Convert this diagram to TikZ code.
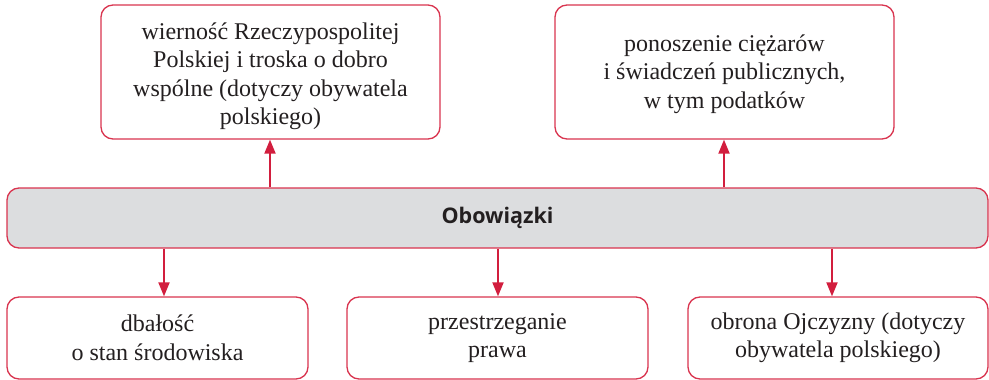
\documentclass[tikz,border=0pt]{standalone}
\usepackage{fontspec}
\setmainfont{Liberation Serif}
\newfontfamily\headfont{Open Sans}
\usetikzlibrary{arrows.meta}
\definecolor{frame}{HTML}{D9344F}
\definecolor{arrowred}{HTML}{D21E3E}
\definecolor{barfill}{HTML}{DCDDDF}
\definecolor{txt}{HTML}{231F20}
\tikzset{
  box/.style={draw=frame, line width=1.3pt, rounded corners=12pt, fill=white, inner sep=0pt},
  label text/.style={align=center, text=txt, font=\fontsize{24}{28.5}\selectfont, inner sep=0pt},
  arr/.style={draw=arrowred, line width=1.9pt, -{Triangle[width=11pt,length=14pt]}}
}
\begin{document}
\begin{tikzpicture}[x=1pt,y=-1pt]
\useasboundingbox (0,0) rectangle (989,380);
\node[box, minimum width=339pt, minimum height=134pt] (t1) at (270.5,72) {};
\node[label text] (t1t) at ([yshift=-4pt]t1.center)
  {wierność Rzeczypospolitej\\Polskiej i troska o dobro\\wspólne (dotyczy obywatela\\polskiego)};
\node[box, minimum width=339pt, minimum height=134pt] (t2) at (724.5,72) {};
\node[label text] (t2t) at ([yshift=-2pt]t2.center)
  {ponoszenie ciężarów\\i świadczeń publicznych,\\w tym podatków};
\node[box, fill=barfill, minimum width=981pt, minimum height=60pt, text=txt,
  font=\headfont\bfseries\fontsize{21.5}{24}\selectfont] (bar) at (497.5,218) {Obowiązki};
\node[box, minimum width=301pt, minimum height=82pt] (b1) at (157.5,338) {};
\node[label text] (b1t) at (b1.center) {dbałość\\o stan środowiska};
\node[box, minimum width=301pt, minimum height=82pt] (b2) at (497.5,338) {};
\node[label text] (b2t) at (b2.center) {przestrzeganie\\prawa};
\node[box, minimum width=300pt, minimum height=82pt] (b3) at (838,338) {};
\node[label text] (b3t) at (b3.center) {obrona Ojczyzny (dotyczy\\obywatela polskiego)};
\coordinate (a1) at ([xshift=6.5pt]b1.north);
\coordinate (a2) at ([xshift=0.5pt]b2.north);
\coordinate (a3) at ([xshift=-6pt]b3.north);
\coordinate (u1) at ([xshift=-0.5pt]t1.south);
\coordinate (u2) at ([xshift=-0.5pt]t2.south);
\draw[arr] (bar.north -| u1) -- (u1);
\draw[arr] (bar.north -| u2) -- (u2);
\draw[arr] (bar.south -| a1) -- (a1);
\draw[arr] (bar.south -| a2) -- (a2);
\draw[arr] (bar.south -| a3) -- (a3);
\end{tikzpicture}
\end{document}
